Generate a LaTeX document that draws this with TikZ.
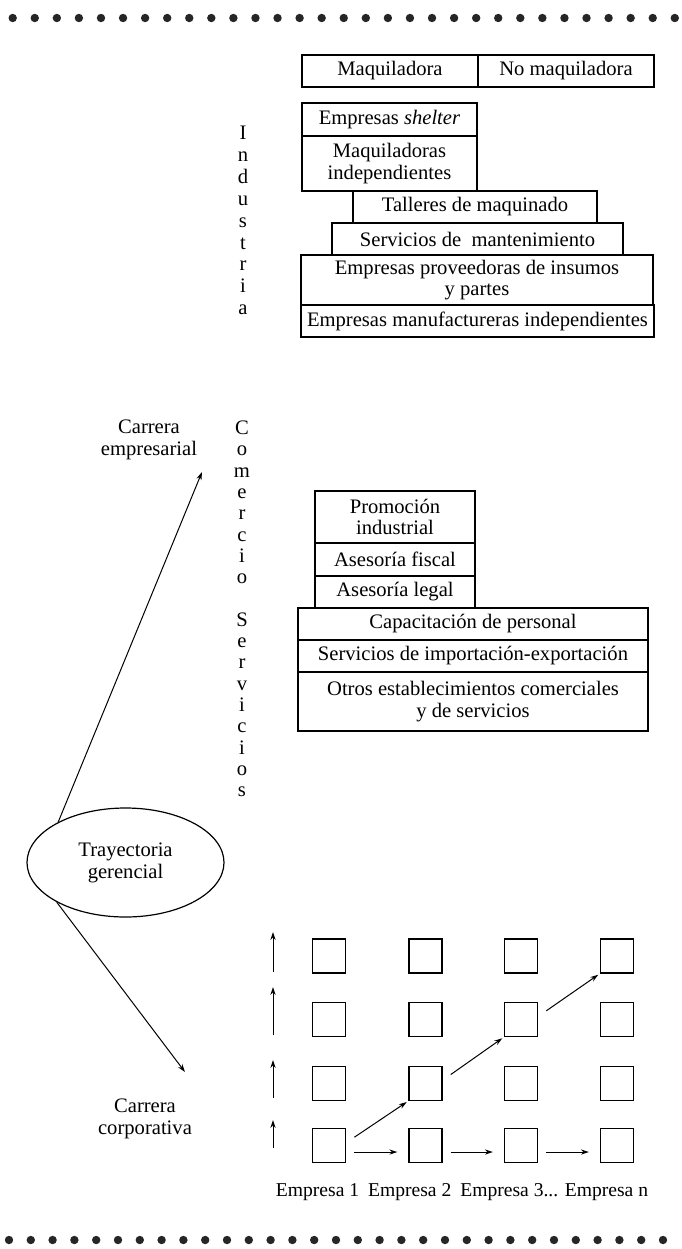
\documentclass[tikz,border=0pt]{standalone}
\usepackage{fontspec}
\setmainfont{Liberation Serif}
\usetikzlibrary{arrows.meta,shapes.geometric}
\begin{document}
\begin{tikzpicture}[x=0.5pt,y=-0.5pt,
  font=\fontsize{10.3}{10.9}\selectfont,
  caja/.style={draw, line width=0.6pt, inner sep=1pt, align=center},
  cuadro/.style={draw, line width=0.6pt, minimum width=16.5pt, minimum height=17pt, inner sep=0pt},
  flecha/.style={-{Stealth[length=4pt,width=2.6pt]}, line width=0.5pt}]
\useasboundingbox (0,0) rectangle (681,1249);

\foreach \k in {0,...,30} {\fill[black!85] (12.7+22.07*\k,18) circle [radius=2.1pt]; \fill[black!85] (9+21.8*\k,1240) circle [radius=2.1pt];}

% industria
\node[caja, minimum width=88pt, minimum height=16pt] (maq) at (390,71) {Maquiladora};
\node[caja, minimum width=88pt, minimum height=16pt] (nomaq) at (566,71) {No maquiladora};
\node[caja, minimum width=87.5pt, minimum height=16.5pt] (shelter) at (389.5,119.5) {Empresas \textit{shelter}};
\node[caja, minimum width=87.5pt, minimum height=27.5pt] (maqind) at (389.5,163.5) {Maquiladoras\\independientes};
\node[caja, minimum width=122pt, minimum height=16pt] (talleres) at (475,207) {Talleres de maquinado};
\node[caja, minimum width=145.5pt, minimum height=16pt] (servman) at (477.5,239) {Servicios de\ \ mantenimiento};
\node[caja, minimum width=176pt, minimum height=25pt] (provee) at (477,280) {Empresas proveedoras de insumos\\y partes};
\node[caja, minimum width=176.5pt, minimum height=16pt] (manuf) at (477.5,321) {Empresas manufactureras independientes};
\foreach \letra [count=\n] in {I,n,d,u,s,t,r,i,a} {\node[anchor=base, inner sep=0pt] (ind\n) at (243,139.5+21.9*\n-21.9) {\letra};}

% comercio y servicios
\foreach \letra [count=\n] in {C,o,m,e,r,c,i,o,,S,e,r,v,i,c,i,o,s} {\node[anchor=base, inner sep=0pt] (com\n) at (242,434.5+21.3*\n-21.3) {\letra};}
\node[caja, minimum width=80pt, minimum height=26pt] (promo) at (395,517) {Promoción\\industrial};
\node[caja, minimum width=80pt, minimum height=16.5pt] (fiscal) at (395,559.5) {Asesoría fiscal};
\node[caja, minimum width=80pt, minimum height=16pt] (legal) at (395,592) {Asesoría legal};
\node[caja, minimum width=175pt, minimum height=16pt] (capac) at (473,624) {Capacitación de personal};
\node[caja, minimum width=175pt, minimum height=16pt] (impexp) at (473,656) {Servicios de importación-exportación};
\node[caja, minimum width=175pt, minimum height=29.5pt] (otros) at (473,701.5) {Otros establecimientos comerciales\\y de servicios};

% trayectorias
\node[align=center] (cemp) at (149,440) {Carrera\\empresarial};
\node[draw, ellipse, line width=0.6pt, minimum width=98.5pt, minimum height=54.5pt, align=center] (tray) at (125.5,862.5) {Trayectoria\\gerencial};
\node[align=center] (ccorp) at (145,1119) {Carrera\\corporativa};
\coordinate (pe) at (202,472);
\coordinate (pc) at (185,1072);
\draw[flecha] (tray.149) -- (pe);
\draw[flecha] (tray.210) -- (pc);

% empresas
\foreach \c/\x in {1/329,2/425.5,3/521,4/617}
  \foreach \r/\y in {1/956,2/1019.5,3/1083.3,4/1145.8}
    \node[cuadro] (sq-\c-\r) at (\x,\y) {};
\foreach \a/\b in {1/2,2/3,3/4} \draw[flecha, shorten <=4pt, shorten >=5.5pt] (sq-\a-4.-20) -- (sq-\b-4.200);
\foreach \a/\b in {1-4/2-3,2-3/3-2,3-2/4-1} \draw[flecha, shorten <=5pt, shorten >=1pt] (sq-\a.10) -- (sq-\b.south west);
\foreach \n/\a/\b in {1/972/932,2/1035/987,3/1098/1060,4/1148/1120} {\coordinate (vb\n) at (273,\a); \coordinate (vt\n) at (273,\b); \draw[flecha] (vb\n) -- (vt\n);}
\node[font=\fontsize{9.8}{10.5}\selectfont] (emp) at (462,1192) {Empresa 1\hspace{2pt} Empresa 2\hspace{2pt} Empresa 3... Empresa n};

\end{tikzpicture}
\end{document}
